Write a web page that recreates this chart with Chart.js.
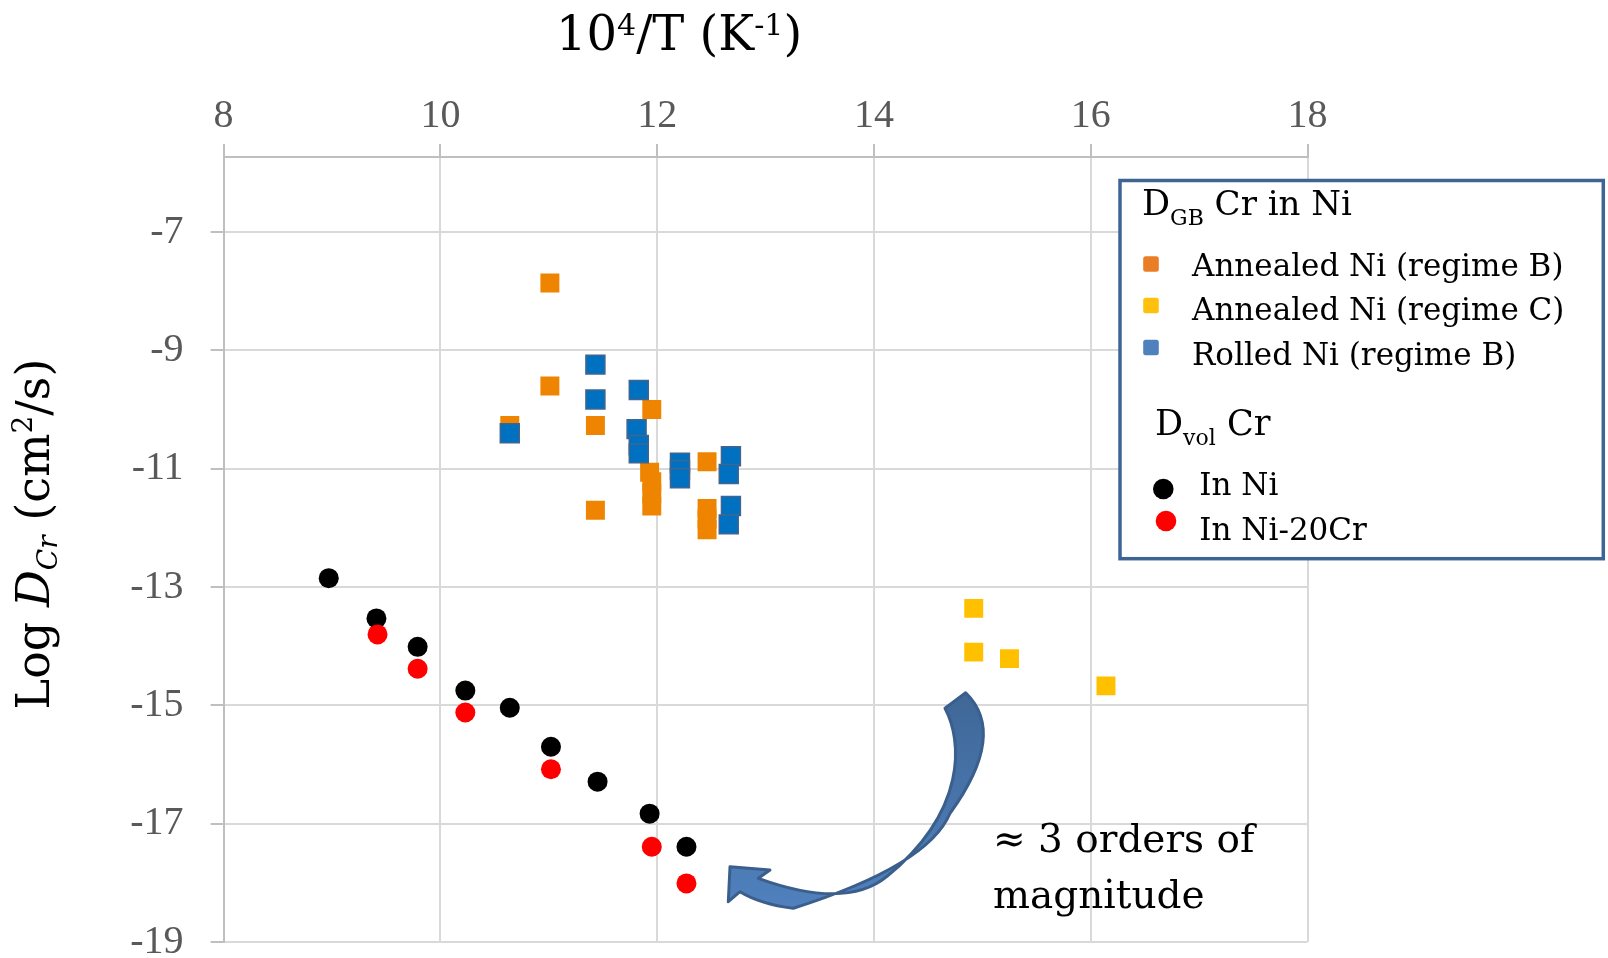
<!DOCTYPE html>
<html>
<head>
<meta charset="utf-8">
<title>Cr diffusion in Ni</title>
<script src="https://cdn.jsdelivr.net/npm/chart.js@4/dist/chart.umd.min.js"></script>
<style>
  html, body { margin: 0; padding: 0; background: #ffffff; }
  #wrap { width: 1608px; height: 958px; position: relative; }
</style>
</head>
<body>
<div id="wrap"><canvas id="chart" width="1608" height="958"></canvas></div>
<script>
// ---- data: x = 10^4/T (K^-1), y = log D (cm^2/s) ----
const annealedB = [
  { x: 11.01, y: -7.86 }, { x: 11.01, y: -9.60 }, { x: 10.64, y: -10.27 },
  { x: 11.43, y: -10.27 }, { x: 11.95, y: -10.00 }, { x: 11.43, y: -11.70 },
  { x: 11.93, y: -11.06 }, { x: 11.95, y: -11.22 }, { x: 11.95, y: -11.42 },
  { x: 11.95, y: -11.63 }, { x: 12.46, y: -10.88 }, { x: 12.46, y: -11.67 },
  { x: 12.46, y: -11.85 }, { x: 12.46, y: -12.03 }
];
const annealedC = [
  { x: 14.92, y: -13.36 }, { x: 14.92, y: -14.10 }, { x: 15.25, y: -14.21 },
  { x: 16.14, y: -14.67 }
];
const rolledB = [
  { x: 10.64, y: -10.40 }, { x: 11.43, y: -9.24 }, { x: 11.43, y: -9.83 },
  { x: 11.83, y: -9.67 }, { x: 11.81, y: -10.33 }, { x: 11.83, y: -10.60 },
  { x: 11.83, y: -10.74 }, { x: 12.21, y: -10.90 }, { x: 12.21, y: -11.02 },
  { x: 12.21, y: -11.16 }, { x: 12.68, y: -10.79 }, { x: 12.66, y: -11.09 },
  { x: 12.68, y: -11.63 }, { x: 12.66, y: -11.94 }
];
const volNi = [
  { x: 8.97, y: -12.85 }, { x: 9.41, y: -13.53 }, { x: 9.79, y: -14.01 },
  { x: 10.23, y: -14.75 }, { x: 10.64, y: -15.04 }, { x: 11.02, y: -15.70 },
  { x: 11.45, y: -16.29 }, { x: 11.93, y: -16.83 }, { x: 12.27, y: -17.39 }
];
const volNi20Cr = [
  { x: 9.42, y: -13.80 }, { x: 9.79, y: -14.38 }, { x: 10.23, y: -15.12 },
  { x: 11.02, y: -16.08 }, { x: 11.95, y: -17.39 }, { x: 12.27, y: -18.01 }
];

// ---- axis ranges and tick labels ----
const xMin = 8, xMax = 18, xStep = 2;
const yMin = -19, yMax = -5.73;
const yTickValues = [-19, -17, -15, -13, -11, -9, -7];

// ---- legend text ----
const legendGB = ['Annealed Ni (regime B)', 'Annealed Ni (regime C)', 'Rolled Ni (regime B)'];
const legendVol = ['In Ni', 'In Ni-20Cr'];
const noteLines = ['\u2248 3 orders of', 'magnitude'];

const SERIF = '"DejaVu Serif", "Liberation Serif", serif';
const TICK_FONT = '"Liberation Serif", "DejaVu Serif", serif';

const C_ORANGE = '#EF8400';
const C_GOLD = '#FFC000';
const C_BLUE = '#0070C0';
const C_BLUE_EDGE = '#41658F';

// draws a run of text pieces (sub/superscripts, italics) left to right
function richWidth(ctx, parts) {
  let w = 0;
  for (const p of parts) {
    ctx.font = (p.style || '') + ' ' + p.size + 'px ' + SERIF;
    w += ctx.measureText(p.t).width;
  }
  return w;
}
function drawRich(ctx, parts, x, y) {
  let cx = x;
  for (const p of parts) {
    ctx.font = (p.style || '') + ' ' + p.size + 'px ' + SERIF;
    ctx.fillText(p.t, cx, y + (p.dy || 0));
    cx += ctx.measureText(p.t).width;
  }
}

const overlay = {
  id: 'overlay',
  afterDraw(chart) {
    const ctx = chart.ctx;
    ctx.save();
    ctx.fillStyle = '#000000';
    ctx.textAlign = 'left';
    ctx.textBaseline = 'alphabetic';

    // x axis title
    drawRich(ctx, [
      { t: '10', size: 48 },
      { t: '4', size: 30, dy: -15 },
      { t: '/T (K', size: 48 },
      { t: '-1', size: 30, dy: -15 },
      { t: ')', size: 48 }
    ], 556, 50);

    // y axis title (rotated)
    const yParts = [
      { t: 'Log ', size: 46 },
      { t: 'D', size: 46, style: 'italic' },
      { t: 'Cr', size: 28, style: 'italic', dy: 8 },
      { t: ' (cm', size: 46 },
      { t: '2', size: 28, dy: -17 },
      { t: '/s)', size: 46 }
    ];
    ctx.save();
    ctx.translate(49, 534);
    ctx.rotate(-Math.PI / 2);
    drawRich(ctx, yParts, -richWidth(ctx, yParts) / 2, 0);
    ctx.restore();

    // legend box
    ctx.fillStyle = '#ffffff';
    ctx.fillRect(1120, 180.5, 483.3, 378.2);
    ctx.strokeStyle = '#3E6496';
    ctx.lineWidth = 3.5;
    ctx.strokeRect(1120, 180.5, 483.3, 378.2);

    ctx.fillStyle = '#000000';
    drawRich(ctx, [
      { t: 'D', size: 35 },
      { t: 'GB', size: 22, dy: 10 },
      { t: ' Cr in Ni', size: 34 }
    ], 1142, 215);

    const gbSwatch = ['#E97E26', '#FFC10E', '#4F81BD'];
    const gbRows = [264, 305.5, 347.5];
    const gbBase = [276, 320, 365];
    legendGB.forEach((label, i) => {
      ctx.fillStyle = gbSwatch[i];
      ctx.beginPath();
      if (ctx.roundRect) ctx.roundRect(1143.2, gbRows[i] - 7.8, 15.6, 15.6, 2.5);
      else ctx.rect(1143.2, gbRows[i] - 7.8, 15.6, 15.6);
      ctx.fill();
      ctx.fillStyle = '#000000';
      ctx.font = '31px ' + SERIF;
      ctx.fillText(label, 1192, gbBase[i]);
    });

    drawRich(ctx, [
      { t: 'D', size: 35 },
      { t: 'vol', size: 22, dy: 10 },
      { t: ' Cr', size: 35 }
    ], 1155, 435);

    const volSwatch = ['#000000', '#FF0000'];
    const volDots = [[1163.3, 489], [1166, 521]];
    const volBase = [495, 540];
    legendVol.forEach((label, i) => {
      ctx.fillStyle = volSwatch[i];
      ctx.beginPath();
      ctx.arc(volDots[i][0], volDots[i][1], 10.3, 0, Math.PI * 2);
      ctx.fill();
      ctx.fillStyle = '#000000';
      ctx.font = '31px ' + SERIF;
      ctx.fillText(label, 1199.3, volBase[i]);
    });

    // curved arrow
    const grad = ctx.createLinearGradient(0, 690, 0, 910);
    grad.addColorStop(0, '#3F6797');
    grad.addColorStop(1, '#5081BE');
    ctx.beginPath();
    ctx.moveTo(945, 708.3);
    ctx.bezierCurveTo(962, 740, 968, 810, 886.7, 876.7);
    ctx.quadraticCurveTo(846, 910, 758.3, 878.3);
    ctx.lineTo(770, 870);
    ctx.lineTo(730, 866.7);
    ctx.lineTo(728.3, 901.7);
    ctx.lineTo(740, 891.7);
    ctx.quadraticCurveTo(760, 904, 793.3, 908.3);
    ctx.quadraticCurveTo(928.5, 865.5, 950, 813.3);
    ctx.quadraticCurveTo(1007.6, 733.6, 965.7, 692.7);
    ctx.closePath();
    ctx.fillStyle = grad;
    ctx.fill();
    ctx.strokeStyle = '#3B5F8C';
    ctx.lineWidth = 3;
    ctx.lineJoin = 'round';
    ctx.stroke();

    // note text
    ctx.fillStyle = '#000000';
    ctx.font = '39px ' + SERIF;
    ctx.fillText(noteLines[0], 993, 852);
    ctx.fillText(noteLines[1], 993, 907.5);

    ctx.restore();
  }
};

const tickFont = { family: TICK_FONT, size: 40 };

new Chart(document.getElementById('chart'), {
  type: 'scatter',
  data: {
    datasets: [
      { label: legendGB[0], data: annealedB, order: 4, pointStyle: 'rect', pointRadius: 13.4,
        backgroundColor: C_ORANGE, borderColor: C_ORANGE, borderWidth: 0 },
      { label: legendGB[1], data: annealedC, order: 5, pointStyle: 'rect', pointRadius: 13.4,
        backgroundColor: C_GOLD, borderColor: C_GOLD, borderWidth: 0 },
      { label: legendGB[2], data: rolledB, order: 3, pointStyle: 'rect', pointRadius: 13.4,
        backgroundColor: C_BLUE, borderColor: C_BLUE_EDGE, borderWidth: 1.5 },
      { label: legendVol[0], data: volNi, order: 2, pointStyle: 'circle', pointRadius: 10,
        backgroundColor: '#000000', borderColor: '#000000', borderWidth: 0 },
      { label: legendVol[1], data: volNi20Cr, order: 1, pointStyle: 'circle', pointRadius: 10,
        backgroundColor: '#FF0000', borderColor: '#FF0000', borderWidth: 0 }
    ]
  },
  options: {
    responsive: false,
    animation: false,
    devicePixelRatio: 1,
    layout: { padding: { left: 0, right: 300.4, top: 0, bottom: 16 } },
    plugins: { legend: { display: false }, tooltip: { enabled: false } },
    elements: { point: { hoverRadius: 10 } },
    scales: {
      x: {
        type: 'linear',
        position: 'top',
        min: xMin, max: xMax,
        ticks: { stepSize: xStep, color: '#595959', font: tickFont, padding: 4 },
        grid: { color: '#D9D9D9', lineWidth: 2, tickLength: 13, tickColor: '#BFBFBF' },
        border: { color: '#BFBFBF', width: 2 },
        afterFit(scale) {
          scale.height = 157;
          scale.paddingLeft = 0;
          scale.paddingRight = 0;
        }
      },
      y: {
        type: 'linear',
        min: yMin, max: yMax,
        afterBuildTicks(scale) {
          scale.ticks = yTickValues.map(v => ({ value: v }));
        },
        ticks: { color: '#595959', font: tickFont, padding: 27 },
        grid: { color: '#D9D9D9', lineWidth: 2, tickLength: 13, tickColor: '#BFBFBF' },
        border: { color: '#BFBFBF', width: 2 },
        afterFit(scale) {
          scale.width = 223.6;
          scale.paddingTop = 0;
          scale.paddingBottom = 0;
        }
      }
    }
  },
  plugins: [overlay]
});
</script>
</body>
</html>
